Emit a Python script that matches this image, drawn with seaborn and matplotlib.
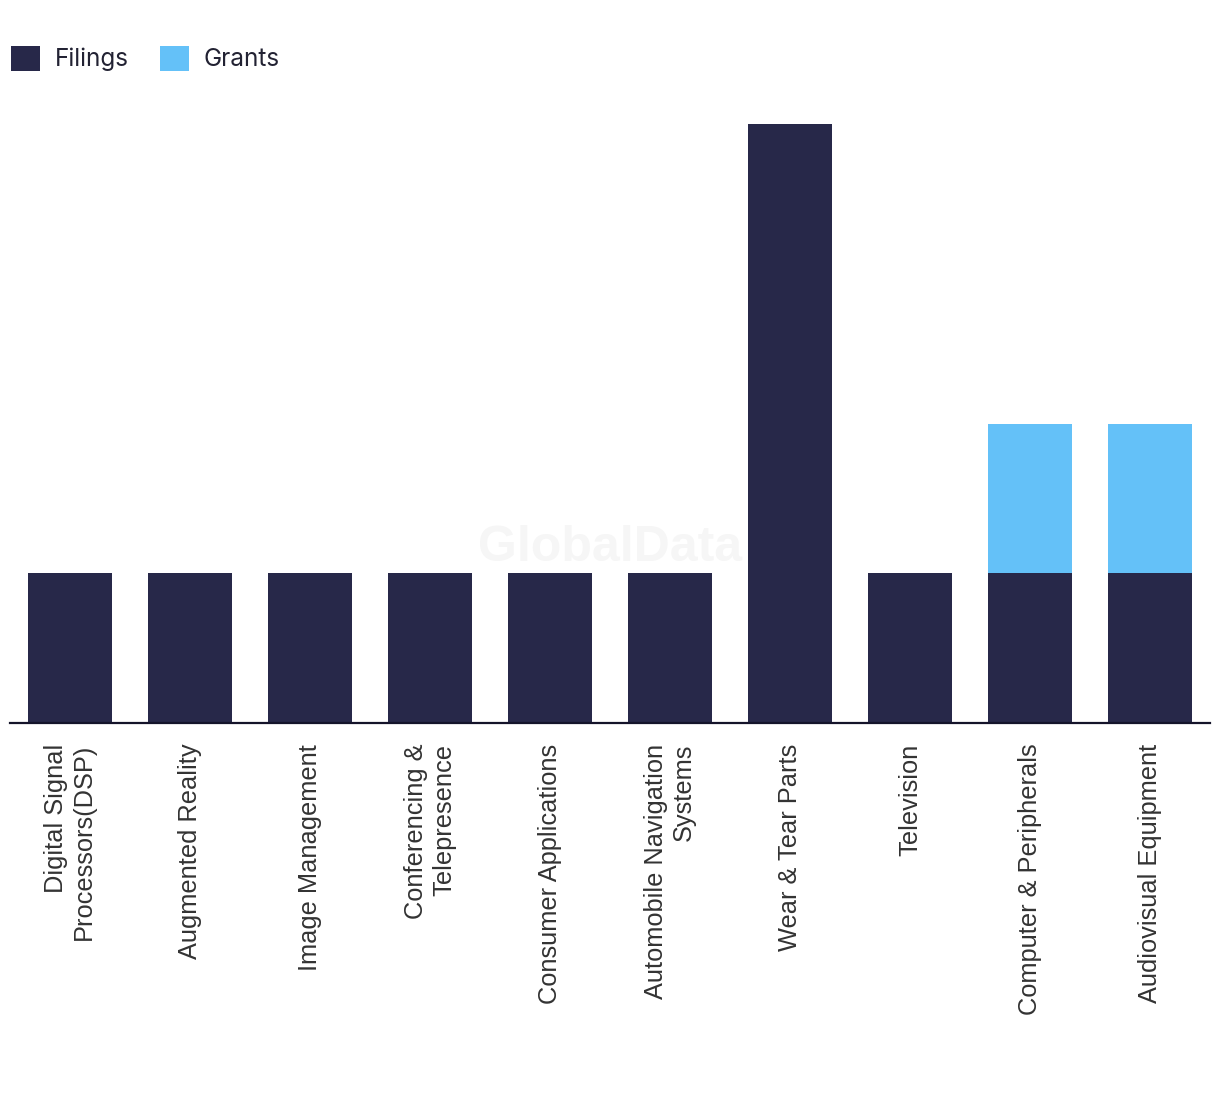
import matplotlib
matplotlib.use("Agg")
import matplotlib.pyplot as plt
import seaborn as sns
import pandas as pd
from matplotlib.patches import Patch

categories = [
    "Digital Signal\nProcessors(DSP)",
    "Augmented Reality",
    "Image Management",
    "Conferencing &\nTelepresence",
    "Consumer Applications",
    "Automobile Navigation\nSystems",
    "Wear & Tear Parts",
    "Television",
    "Computer & Peripherals",
    "Audiovisual Equipment",
]
filings = [1, 1, 1, 1, 1, 1, 4, 1, 1, 1]
grants = [0, 0, 0, 0, 0, 0, 0, 0, 1, 1]

FILING_COLOR = "#272849"
GRANT_COLOR = "#64C1F8"

df = pd.DataFrame({
    "category": categories,
    "filings": filings,
    "grants": grants,
})
df["total"] = df["filings"] + df["grants"]

sns.set_style("white")
plt.rcParams["font.family"] = ["Liberation Sans", "DejaVu Sans"]

fig = plt.figure(figsize=(12.2, 10.94), dpi=100)
W, H = 1220, 1094
ax = fig.add_axes([10 / W, 1 - 723 / H, 1200 / W, (723 - 100) / H])

sns.barplot(data=df, x="category", y="total", color=GRANT_COLOR, width=0.7,
            saturation=1, ax=ax, order=categories)
sns.barplot(data=df, x="category", y="filings", color=FILING_COLOR, width=0.7,
            saturation=1, ax=ax, order=categories)
for p in ax.patches:
    p.set_edgecolor("none")
    p.set_linewidth(0)

ax.set_xlim(-0.5, len(categories) - 0.5)
ax.set_ylim(0, 623 / 149.75)
ax.set_xlabel("")
ax.set_ylabel("")
ax.set_yticks([])
for s in ["top", "right", "left"]:
    ax.spines[s].set_visible(False)
ax.spines["bottom"].set_color("#14142a")
ax.spines["bottom"].set_linewidth(1.6)
ax.tick_params(axis="x", length=0, pad=15)
ax.set_xticks(range(len(categories)))
ax.set_xticklabels(categories, rotation=90, fontsize=18.3, color="#333333",
                   ha="center", va="top", multialignment="right",
                   linespacing=1.2)

# watermark
fig.text(610 / W, 1 - 548 / H, "GlobalData", ha="center", va="center",
         fontsize=36, fontweight="bold", color="#f6f6f6", zorder=0,
         family=["Liberation Sans", "DejaVu Sans"])

handles = [Patch(facecolor=FILING_COLOR, edgecolor="none", label="Filings"),
           Patch(facecolor=GRANT_COLOR, edgecolor="none", label="Grants")]
fig.legend(handles=handles, loc="upper left", bbox_to_anchor=(1 / W, 1 - 36 / H),
           ncol=2, frameon=False, handlelength=1.2, handleheight=1.2,
           handletextpad=0.6, columnspacing=1.3, borderaxespad=0,
           prop={"family": ["Inter", "DejaVu Sans"], "size": 17.5},
           labelcolor="#222233")

fig.savefig("out.png", dpi=100, facecolor="white")
